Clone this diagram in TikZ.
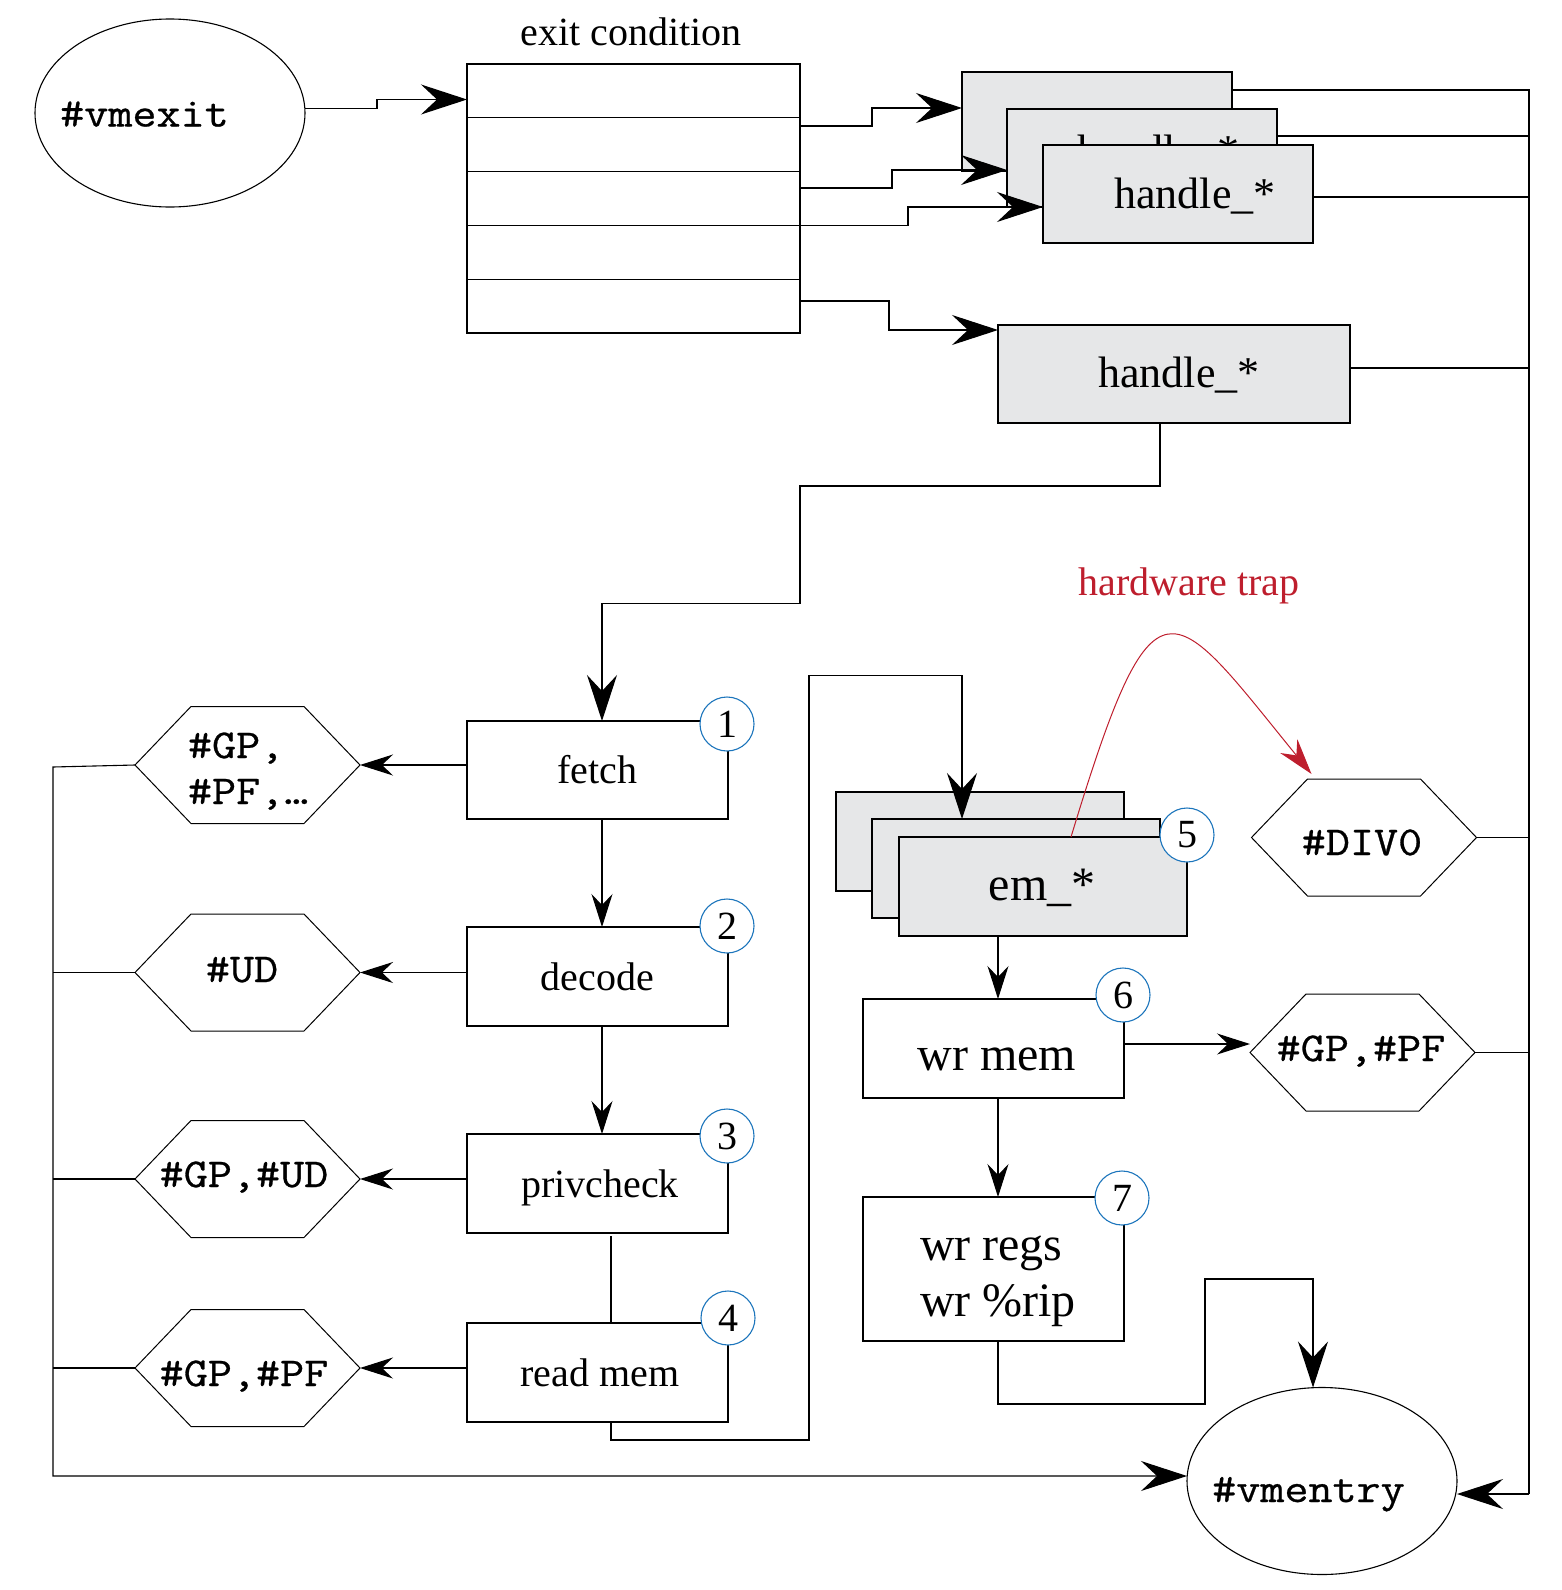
\documentclass[tikz,border=0pt]{standalone}
\usepackage{fontspec}
\setmainfont{Liberation Serif}
\newfontfamily\codefont[FakeStretch=1.14,FakeBold=0.7]{Latin Modern Mono}
\usetikzlibrary{arrows.meta,calc,shapes.geometric}

\definecolor{boxgray}{RGB}{230,231,232}
\definecolor{trapred}{RGB}{190,30,45}
\definecolor{stepblue}{RGB}{28,117,188}

\begin{document}
\begin{tikzpicture}[x=0.5pt,y=-0.5pt,line width=0.55pt,
  every node/.style={inner sep=0pt,outer sep=0pt},
  plainbox/.style={draw,fill=white,line width=0.6pt},
  graybox/.style={draw,fill=boxgray,line width=0.6pt},
  oval/.style={ellipse,draw,line width=0.55pt,minimum width=135pt,minimum height=94pt},
  hexbox/.style={minimum width=112.5pt,minimum height=58.5pt},
  stepnum/.style={circle,draw=stepblue,fill=white,line width=0.55pt,minimum size=27pt,
    font=\fontsize{20}{24}\selectfont},
  serif20/.style={font=\fontsize{20}{24}\selectfont},
  serif22/.style={font=\fontsize{22}{26}\selectfont},
  serif24/.style={font=\fontsize{24}{28}\selectfont},
  mono20/.style={font=\codefont\fontsize{20.5}{23}\selectfont},
  bigarr/.style={-{Stealth[length=23pt,width=15pt,inset=8pt]}},
  smallarr/.style={-{Stealth[length=16.5pt,width=10.5pt,inset=5.5pt]}},
  trapline/.style={draw=trapred,line width=0.5pt,
    -{Stealth[length=18pt,width=11pt,inset=6pt,color=trapred]}}]

\useasboundingbox (0,0) rectangle (1562,1590);

% ---- entry oval and exit-condition table ----
\node[oval] (vmexit) at (170,113) {};
\node[mono20,anchor=base] (vmexit-t) at (144.5,126.5) {\#vmexit};

\node[serif20,anchor=base] (exitcond) at (631,45) {exit condition};
\foreach \r/\yc in {1/90.9,2/144.7,3/198.5,4/252.3,5/306.1}
  \node[plainbox,minimum width=166.5pt,minimum height=26.9pt] (row\r) at (633.5,\yc) {};

% ---- stacked handlers ----
\node[graybox,minimum width=135pt,minimum height=49.5pt] (hb1) at (1097,121.5) {};
\node[serif22,anchor=base] (hb1-t) at (1112,140) {handle\_*};
\node[graybox,minimum width=135pt,minimum height=49pt] (hb2) at (1142,158) {};
\node[serif22,anchor=base] (hb2-t) at (1158.5,165) {handle\_*};
\node[graybox,minimum width=135pt,minimum height=49pt] (hb3) at (1178,194) {};
\node[serif22,anchor=base] (hb3-t) at (1195,208) {handle\_*};

\node[graybox,minimum width=176pt,minimum height=49pt] (hlow) at (1174,374) {};
\node[serif22,anchor=base] (hlow-t) at (1179,387) {handle\_*};

% ---- decode pipeline ----
\node[plainbox,minimum width=130.5pt,minimum height=49pt] (fetch) at (597.5,770) {};
\node[serif20,anchor=base] (fetch-t) at (597.5,783) {fetch};
\node[plainbox,minimum width=130.5pt,minimum height=49.5pt] (decode) at (597.5,976.5) {};
\node[serif20,anchor=base] (decode-t) at (597.5,990) {decode};
\node[plainbox,minimum width=130.5pt,minimum height=49.5pt] (privcheck) at (597.5,1183.5) {};
\node[serif20,anchor=base] (privcheck-t) at (600,1197) {privcheck};
\node[plainbox,minimum width=130.5pt,minimum height=49.5pt] (readmem) at (597.5,1372.5) {};
\node[serif20,anchor=base] (readmem-t) at (600,1386) {read mem};

% ---- emulation stack ----
\node[graybox,minimum width=144pt,minimum height=49.5pt] (em1) at (980,841.5) {};
\node[graybox,minimum width=144pt,minimum height=49.5pt] (em2) at (1016,868.5) {};
\node[graybox,minimum width=144pt,minimum height=49.5pt] (em3) at (1043,886.5) {};
\node[serif24,anchor=base] (em3-t) at (1042,900) {em\_*};

\node[plainbox,minimum width=130.5pt,minimum height=49.5pt] (wrmem) at (993.5,1048.5) {};
\node[serif24,anchor=base] (wrmem-t) at (997,1070) {wr mem};
\node[plainbox,minimum width=130.5pt,minimum height=72pt] (wrregs) at (993.5,1269) {};
\node[serif24,anchor=base west] (wrregs-t1) at (920,1260) {wr regs};
\node[serif24,anchor=base west] (wrregs-t2) at (920,1316) {wr \%rip};

\node[oval,minimum height=93.5pt] (vmentry) at (1322,1481) {};
\node[mono20,anchor=base] (vmentry-t) at (1308.5,1502) {\#vmentry};

% ---- exception hexagons ----
\node[hexbox] (h1) at (247.5,765) {};
\node[hexbox] (h2) at (247.5,972.5) {};
\node[hexbox] (h3) at (247.5,1179) {};
\node[hexbox] (h4) at (247.5,1368) {};
\node[hexbox] (div0) at (1364,837.5) {};
\node[hexbox] (gppf) at (1362.5,1052.5) {};
\foreach \h in {h1,h2,h3,h4,div0,gppf}
  \draw[line width=0.5pt] (\h.west) -- ($(\h.north west)+(56,0)$) -- ($(\h.north east)+(-56,0)$)
    -- (\h.east) -- ($(\h.south east)+(-56,0)$) -- ($(\h.south west)+(56,0)$) -- cycle;

\node[mono20,anchor=base west] (h1-t1) at (188,758) {\#GP,};
\node[mono20,anchor=base west] (h1-t2) at (188,804) {\#PF,…};
\node[mono20,anchor=base] (h2-t) at (242,982) {\#UD};
\node[mono20,anchor=base] (h3-t) at (244,1187) {\#GP,\#UD};
\node[mono20,anchor=base] (h4-t) at (244,1386) {\#GP,\#PF};
\node[mono20,anchor=base] (div0-t) at (1362,855) {\#DIV0};
\node[mono20,anchor=base] (gppf-t) at (1361,1061) {\#GP,\#PF};

% ---- step numbers ----
\node[stepnum] (n1) at (727,724) {1};
\node[stepnum] (n2) at (727,926) {2};
\node[stepnum] (n3) at (727,1136) {3};
\node[stepnum] (n4) at (728,1318) {4};
\node[stepnum] (n5) at (1187,835) {5};
\node[stepnum] (n6) at (1123,995) {6};
\node[stepnum] (n7) at (1122,1198) {7};

% ---- dispatch from the exit table ----
\draw[bigarr] ($(vmexit.east)+(0,-4.5)$) -- (377,108.5) -- (377,99.5) -- (row1.west |- 0,99.5);
\draw[bigarr] (row2.east |- 0,126) -- (872,126) -- (872,108) -- (hb1.west |- 0,108);
\draw[bigarr] (row3.east |- 0,188) -- (892,188) -- (892,170) -- (hb2.west |- 0,170);
\draw[bigarr] (row4.north east) -- (908,225.4) -- (908,207) -- (hb3.west |- 0,207);
\draw[bigarr] (row5.east |- 0,301) -- (889,301) -- (889,330) -- (hlow.west |- 0,330);

% ---- return bus on the right ----
\coordinate (busTop) at (1529,90);
\coordinate (busBot) at (1529,1494);
\draw (hb1.east |- busTop) -- (busTop) -- (busBot);
\draw (hb2.east |- 0,136) -- (busTop |- 0,136);
\draw (hb3.east |- 0,197) -- (busTop |- 0,197);
\draw (hlow.east |- 0,368) -- (busTop |- 0,368);
\draw (div0.east) -- (busTop |- div0.east);
\draw (gppf.east) -- (busTop |- gppf.east);
\draw[bigarr] (busBot) -- (vmentry.east |- busBot);

% ---- emulation path ----
\draw[bigarr] (hlow.south -| 1160,0) -- (1160,486) -- (800,486) -- (800,603.5)
  -- (602,603.5) -- (fetch.north -| 602,0);
\draw[smallarr] (fetch.south -| 602,0) -- (decode.north -| 602,0);
\draw[smallarr] (decode.south -| 602,0) -- (privcheck.north -| 602,0);
\draw ($(privcheck.south -| 611,0)+(0,3)$) -- (readmem.north -| 611,0);
\draw[bigarr] (readmem.south -| 611,0) -- (611,1440) -- (809,1440) -- (809,675.5)
  -- (962,675.5) -- (em2.north -| 962,0);
\draw[smallarr] (em3.south -| 998,0) -- (wrmem.north -| 998,0);
\draw[smallarr] (wrmem.south -| 998,0) -- (wrregs.north -| 998,0);
\draw[smallarr] (wrmem.east |- 0,1044) -- (gppf.west |- 0,1044);
\draw[bigarr] (wrregs.south -| 998,0) -- (998,1404) -- (1205,1404) -- (1205,1279)
  -- (1313,1279) -- (vmentry.north -| 1313,0);

% ---- exceptions collected on the left ----
\coordinate (lbTop) at (53,767);
\coordinate (lbBot) at (53,1476);
\draw[smallarr] (fetch.west |- h1.east) -- (h1.east);
\draw[smallarr] (decode.west |- h2.east) -- (h2.east);
\draw[smallarr] (privcheck.west |- h3.east) -- (h3.east);
\draw[smallarr] (readmem.west |- h4.east) -- (h4.east);
\draw[bigarr] (h1.west) -- (lbTop) -- (lbBot) -- (vmentry.west |- lbBot);
\draw (h2.west) -- (lbTop |- h2.west);
\draw (h3.west) -- (lbTop |- h3.west);
\draw (h4.west) -- (lbTop |- h4.west);

% ---- hardware trap ----
\node[serif20,anchor=base,text=trapred] (trap-t) at (1189,595) {hardware trap};
\draw[trapline] (em3.north -| 1071,0) .. controls (1155,560) and (1170,600)
  .. ($(div0.north west)+(60,-5)$);

\end{tikzpicture}
\end{document}
